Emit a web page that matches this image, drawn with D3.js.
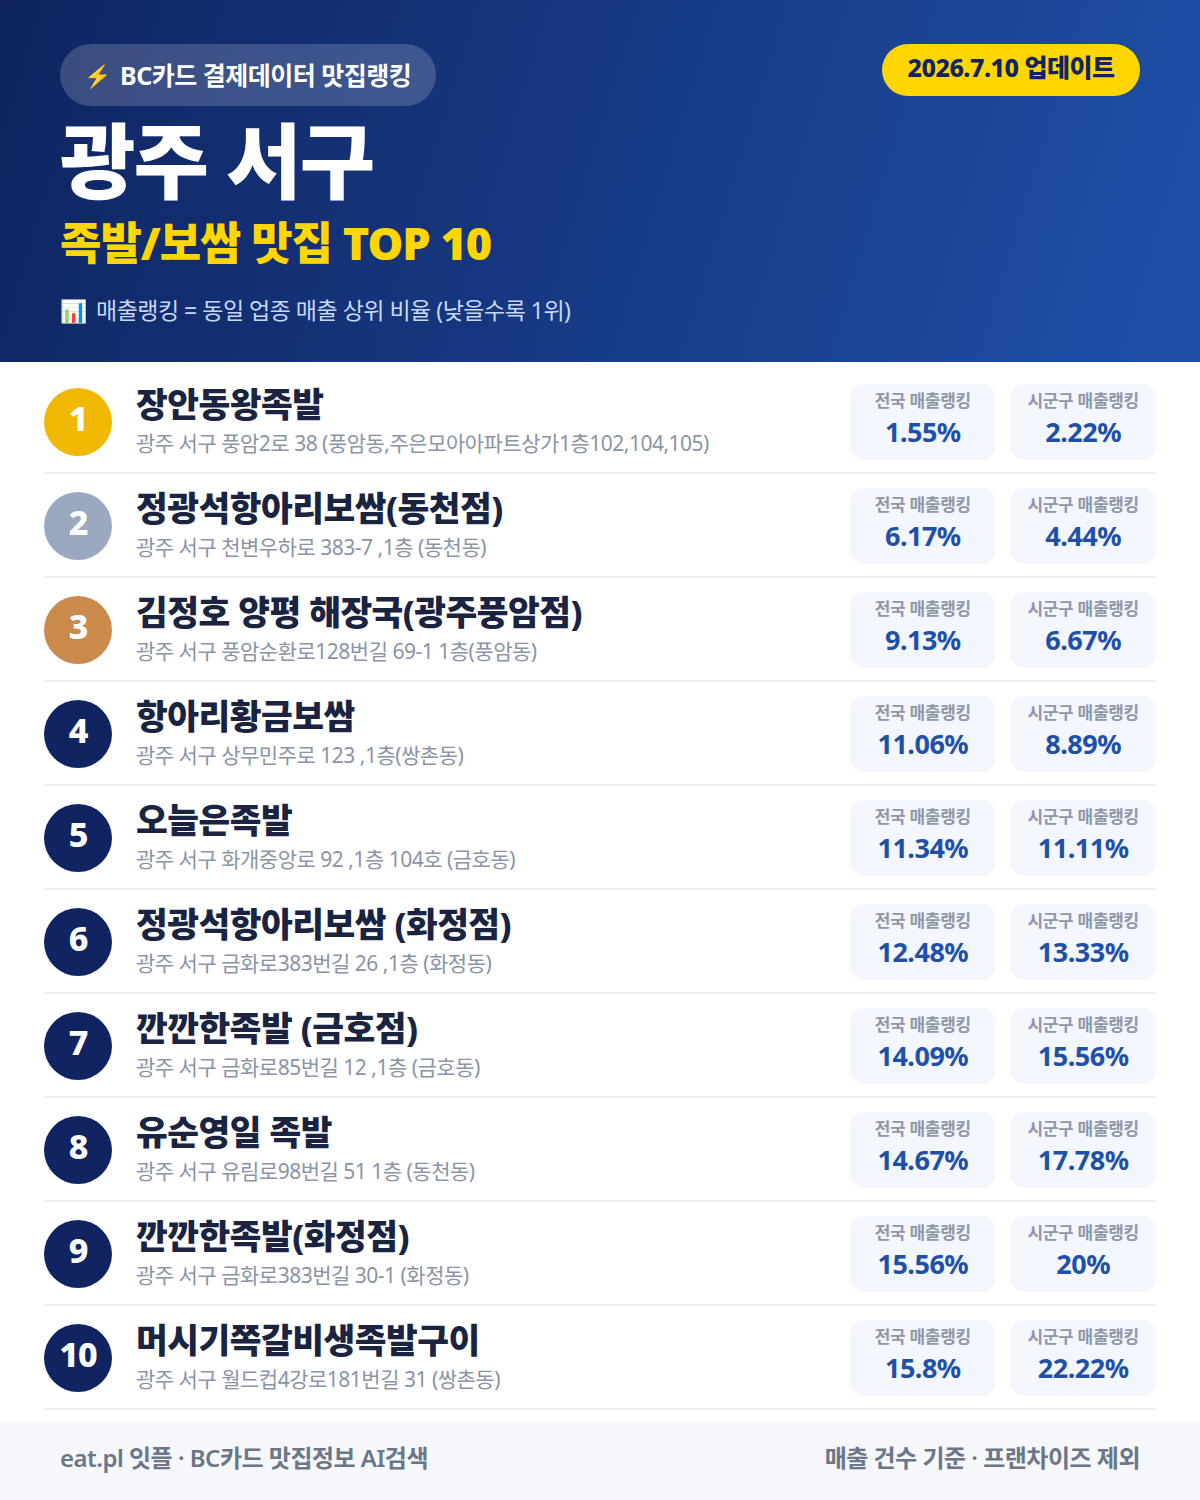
<!DOCTYPE html>
<html lang="ko"><head><meta charset="utf-8">
<script src="https://cdn.jsdelivr.net/npm/d3@7/dist/d3.min.js"></script>
<style>html,body{margin:0;padding:0;background:#fff}svg{display:block}text{font-family:"Noto Sans","Noto Sans CJK KR",sans-serif}</style>
</head><body><div id="chart"></div>
<script>
const ranks = [1,2,3,4,5,6,7,8,9,10];
const names = ["장안동왕족발","정광석항아리보쌈(동천점)","김정호 양평 해장국(광주풍암점)","항아리황금보쌈","오늘은족발","정광석항아리보쌈 (화정점)","깐깐한족발 (금호점)","유순영일 족발","깐깐한족발(화정점)","머시기쪽갈비생족발구이"];
const addresses = ["광주 서구 풍암2로 38 (풍암동,주은모아아파트상가1층102,104,105)","광주 서구 천변우하로 383-7 ,1층 (동천동)","광주 서구 풍암순환로128번길 69-1 1층(풍암동)","광주 서구 상무민주로 123 ,1층(쌍촌동)","광주 서구 화개중앙로 92 ,1층 104호 (금호동)","광주 서구 금화로383번길 26 ,1층 (화정동)","광주 서구 금화로85번길 12 ,1층 (금호동)","광주 서구 유림로98번길 51 1층 (동천동)","광주 서구 금화로383번길 30-1 (화정동)","광주 서구 월드컵4강로181번길 31 (쌍촌동)"];
const nationalRank = [1.55,6.17,9.13,11.06,11.34,12.48,14.09,14.67,15.56,15.8];
const districtRank = [2.22,4.44,6.67,8.89,11.11,13.33,15.56,17.78,20,22.22];
const cardLabels = ["전국 매출랭킹","시군구 매출랭킹"];
const badgeColors = ["#f0b800","#9aa8c0","#c98a4b"];
const badgeDefault = "#0f2460";

const W=1200,H=1500;
const svg=d3.select("#chart").append("svg").attr("width",W).attr("height",H).attr("viewBox",`0 0 ${W} ${H}`);
const defs=svg.append("defs");
const g=defs.append("linearGradient").attr("id","hdr").attr("gradientUnits","userSpaceOnUse")
 .attr("x1",0).attr("y1",0).attr("x2",1200).attr("y2",362);
g.append("stop").attr("offset",0).attr("stop-color","#0f2460");
g.append("stop").attr("offset",1).attr("stop-color","#1e50a8");

function t(parent,x,y,s,size,weight,fill,anchor,ls){
  return parent.append("text").attr("x",x).attr("y",y).text(s).attr("font-size",size).attr("font-weight",weight)
   .attr("fill",fill).attr("text-anchor",anchor||"start").attr("letter-spacing",ls||0);
}
// header
svg.append("rect").attr("width",W).attr("height",362).attr("fill","url(#hdr)");
svg.append("rect").attr("x",60).attr("y",44).attr("width",376).attr("height",62).attr("rx",31).attr("fill","#fff").attr("fill-opacity",0.18);
t(svg,84,84,"⚡",22,700,"#ffd000");
t(svg,120,85,"BC카드 결제데이터 맛집랭킹",25,700,"#fff","start",-0.5);
t(svg,60,192,"광주 서구",82,900,"#fff","start",-2);
t(svg,60,260,"족발/보쌈 맛집 TOP 10",45,900,"#ffd600","start",-1);
t(svg,60,319,"📊",22,400,"#bcd0f0");
t(svg,96,319,"매출랭킹 = 동일 업종 매출 상위 비율 (낮을수록 1위)",23,400,"#c8d8f5","start",-0.5);
svg.append("rect").attr("x",882).attr("y",44).attr("width",258).attr("height",52).attr("rx",26).attr("fill","#ffd600");
t(svg,1011,77,"2026.7.10 업데이트",25,800,"#0f2460","middle",-0.5);

// rows
const y=d3.scaleBand().domain(ranks).range([370,1410]);
const row=svg.selectAll("g.row").data(ranks).join("g").attr("class","row").attr("transform",d=>`translate(0,${y(d)})`);
row.append("rect").attr("x",44).attr("y",y.bandwidth()-2).attr("width",1112).attr("height",2).attr("fill","#eef0f3");
row.append("circle").attr("cx",78).attr("cy",52).attr("r",34).attr("fill",(d,i)=>badgeColors[i]||badgeDefault);
row.append("text").attr("x",78).attr("y",61).attr("text-anchor","middle").attr("font-size",34).attr("font-weight",800).attr("fill","#fff").attr("letter-spacing",-1).text(d=>d);
row.append("text").attr("x",136).attr("y",47).attr("font-size",34.5).attr("font-weight",800).attr("fill","#1a2340").attr("letter-spacing",-0.5).text((d,i)=>names[i]);
row.append("text").attr("x",136).attr("y",81).attr("font-size",21).attr("font-weight",400).attr("fill","#8a94a6").attr("letter-spacing",-0.5).text((d,i)=>addresses[i]);
const cardX=d3.scaleBand().domain([0,1]).range([850,1156]).paddingInner(14/153);
[nationalRank,districtRank].forEach((vals,c)=>{
  const cx=cardX(c)+cardX.bandwidth()/2;
  row.append("rect").attr("x",cardX(c)).attr("y",14).attr("width",cardX.bandwidth()).attr("height",76).attr("rx",14).attr("fill","#f3f6fd");
  row.append("text").attr("x",cx).attr("y",37).attr("text-anchor","middle").attr("font-size",17).attr("font-weight",700).attr("fill","#8f97a6").attr("letter-spacing",-0.3).text(cardLabels[c]);
  row.append("text").attr("x",cx).attr("y",72).attr("text-anchor","middle").attr("font-size",27).attr("font-weight",700).attr("fill","#1e50a8").attr("letter-spacing",-0.5).text((d,i)=>vals[i]+"%");
});
// footer
svg.append("rect").attr("y",1422).attr("width",W).attr("height",78).attr("fill","#f5f7fb");
t(svg,60,1467,"eat.pl 잇플 · BC카드 맛집정보 AI검색",24,600,"#6b7686","start",-0.5);
t(svg,1140,1467,"매출 건수 기준 · 프랜차이즈 제외",24,600,"#6b7686","end",-0.5);
</script></body></html>
